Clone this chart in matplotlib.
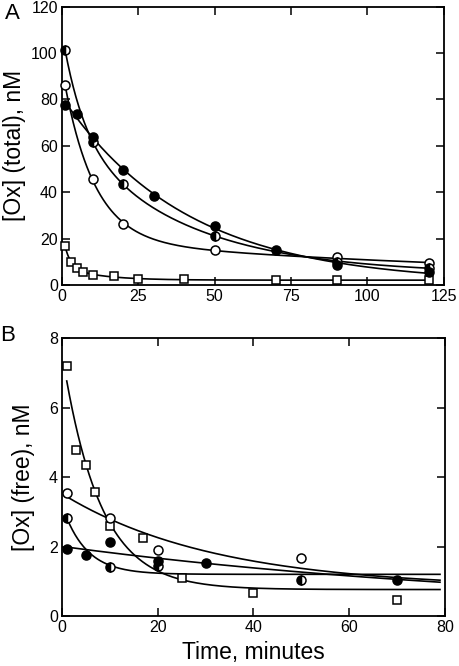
import matplotlib
matplotlib.use("Agg")
import matplotlib.pyplot as plt
import numpy as np

plt.rcParams['font.family'] = ['Liberation Sans', 'DejaVu Sans']

# Panel A: total [Ox], nM
a_filled_t = np.array([1, 5, 10, 20, 30, 50, 70, 90, 120])
a_filled_y = np.array([77.5, 73.7, 63.9, 49.6, 38.4, 25.6, 15.1, 8.5, 5.8])
a_half_t = np.array([1, 10, 20, 50, 90, 120])
a_half_y = np.array([101.5, 61.8, 43.5, 21.3, 10.0, 7.5])
a_open_t = np.array([1, 10, 20, 50, 90, 120])
a_open_y = np.array([86.2, 45.6, 26.5, 15.0, 12.0, 9.3])
a_square_t = np.array([1, 3, 5, 7, 10, 17, 25, 40, 70, 90, 120])
a_square_y = np.array([16.9, 9.8, 7.3, 5.7, 4.3, 3.9, 2.5, 2.4, 2.1, 2.1, 2.1])

# Panel B: free [Ox], nM
b_filled_t = np.array([1, 5, 10, 20, 30, 70])
b_filled_y = np.array([1.93, 1.76, 2.12, 1.58, 1.53, 1.04])
b_half_t = np.array([1, 10, 20, 50])
b_half_y = np.array([2.83, 1.40, 1.45, 1.04])
b_open_t = np.array([1, 10, 20, 50])
b_open_y = np.array([3.55, 2.81, 1.90, 1.68])
b_open_plateau = 0.8
b_square_t = np.array([1, 3, 5, 7, 10, 17, 25, 40, 70])
b_square_y = np.array([7.2, 4.78, 4.35, 3.56, 2.59, 2.25, 1.10, 0.65, 0.46])


def fit_decay(t, y, n_exp, offset=None):
    # grid search on rates, linear least squares on amplitudes (+ offset)
    ks = np.logspace(-3, 0.7, 110)
    if n_exp == 1:
        combos = [(k,) for k in ks]
    else:
        combos = [(k1, k2) for i, k1 in enumerate(ks) for k2 in ks[i + 1:]]
    target = y if offset is None else y - offset
    best = None
    for rates in combos:
        cols = [np.exp(-k * t) for k in rates]
        if offset is None:
            cols.append(np.ones_like(t, dtype=float))
        X = np.column_stack(cols)
        coef, *_ = np.linalg.lstsq(X, target, rcond=None)
        if np.any(coef < 0):
            continue
        sse = np.sum((X @ coef - target) ** 2)
        if best is None or sse < best[0]:
            best = (sse, rates, coef)
    _, rates, coef = best
    if offset is None:
        base, amps = coef[-1], coef[:-1]
    else:
        base, amps = offset, coef

    def f(tt):
        out = np.full_like(tt, base, dtype=float)
        for k, c in zip(rates, amps):
            out += c * np.exp(-k * tt)
        return out
    return f


def draw_series(ax, t, y, kind, n_exp, t_fit, offset=None):
    f = fit_decay(t.astype(float), y, n_exp, offset)
    ax.plot(t_fit, f(t_fit), color="black", lw=1.2, zorder=2)
    style = dict(color="black", markeredgecolor="black", markeredgewidth=1.1,
                 linestyle="none", zorder=3, clip_on=False)
    if kind == "filled":
        ax.plot(t, y, marker="o", markersize=6.5, markerfacecolor="black", **style)
    elif kind == "half":
        ax.plot(t, y, marker="o", markersize=6.5, fillstyle="left",
                markerfacecolor="black", markerfacecoloralt="white", **style)
    elif kind == "open":
        ax.plot(t, y, marker="o", markersize=6.5, markerfacecolor="white", **style)
    else:
        ax.plot(t, y, marker="s", markersize=5.5, markerfacecolor="white", **style)


def style_axes(ax):
    for sp in ax.spines.values():
        sp.set_linewidth(1.3)
    ax.tick_params(direction="in", length=5.5, width=1.1, top=True, right=True,
                   labelsize=11.5, pad=3)


fig = plt.figure(figsize=(4.59, 6.66), dpi=100)
ax_a = fig.add_axes([0.135, 0.572, 0.832, 0.418])
ax_b = fig.add_axes([0.135, 0.075, 0.834, 0.4175])

t_a = np.linspace(1, 120, 400)
draw_series(ax_a, a_square_t, a_square_y, "square", 2, t_a)
draw_series(ax_a, a_open_t, a_open_y, "open", 2, t_a)
draw_series(ax_a, a_half_t, a_half_y, "half", 2, t_a)
draw_series(ax_a, a_filled_t, a_filled_y, "filled", 2, t_a)
ax_a.set_xlim(0, 125)
ax_a.set_ylim(0, 120)
ax_a.set_xticks([0, 25, 50, 75, 100, 125])
ax_a.set_yticks([0, 20, 40, 60, 80, 100, 120])
ax_a.set_ylabel("[Ox] (total), nM", fontsize=16.5, labelpad=4)
style_axes(ax_a)

t_b = np.linspace(1, 79, 400)
draw_series(ax_b, b_square_t, b_square_y, "square", 1, t_b)
draw_series(ax_b, b_open_t, b_open_y, "open", 1, t_b, offset=b_open_plateau)
draw_series(ax_b, b_half_t, b_half_y, "half", 1, t_b)
draw_series(ax_b, b_filled_t, b_filled_y, "filled", 1, t_b)
ax_b.set_xlim(0, 80)
ax_b.set_ylim(0, 8)
ax_b.set_xticks([0, 20, 40, 60, 80])
ax_b.set_yticks([0, 2, 4, 6, 8])
ax_b.set_ylabel("[Ox] (free), nM", fontsize=16.5, labelpad=10)
ax_b.set_xlabel("Time, minutes", fontsize=16.5, labelpad=4)
style_axes(ax_b)

fig.text(0.01, 0.995, "A", fontsize=16, va="top", ha="left")
fig.text(0.0, 0.512, "B", fontsize=16, va="top", ha="left")

fig.savefig("out.png", dpi=100)
